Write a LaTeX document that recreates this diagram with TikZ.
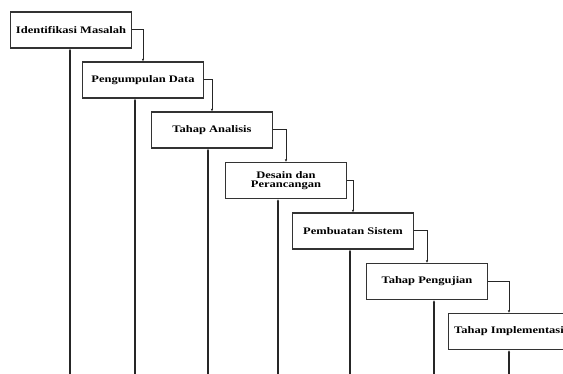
\documentclass[tikz,border=0pt]{standalone}
\usepackage{fontspec}
\newfontfamily\tahapfont[FakeStretch=1.25]{Liberation Serif}
\usetikzlibrary{positioning,arrows.meta,calc}

\begin{document}
\begin{tikzpicture}[
        x=1pt,
        y=1pt,
        >=Latex,
        tahap/.style={draw=black!80, line width=1.3pt, fill=white, minimum width=121pt, minimum height=36pt,
            inner sep=1pt, align=center, font=\tahapfont\bfseries\fontsize{10}{9.5}\selectfont},
        maju/.style={-{Latex[length=2.5pt,width=2.5pt]}, line width=1pt, black!85},
        balik/.style={-{Latex[length=2.5pt,width=2.5pt]}, line width=1.1pt, black!85}
    ]
        \useasboundingbox (0,0) rectangle (563,-374);

        % Tahapan model waterfall
        \node[tahap] (masalah) at (71,-30) {Identifikasi Masalah};
        \node[tahap] (data) at (143,-80) {Pengumpulan Data};
        \node[tahap] (analisis) at (212,-130) {Tahap Analisis};
        \node[tahap] (desain) at (286,-180.5) {Desain dan\\Perancangan};
        \node[tahap] (sistem) at (353,-231) {Pembuatan Sistem};
        \node[tahap] (uji) at (427,-281.5) {Tahap Pengujian};
        \node[tahap] (implementasi) at (509,-331.5) {Tahap Implementasi};

        % Alur maju antar tahap
        \draw[maju] (masalah.east) -| (data.north);
        \draw[maju] (data.east) -| (analisis.north);
        \draw[maju] (analisis.east) -| (desain.north);
        \draw[maju] (desain.east) -| (sistem.north);
        \draw[maju] (sistem.east) -| (uji.north);
        \draw[maju] (uji.east) -| (implementasi.north);

        % Garis balik dari bawah
        \coordinate (b1) at (70,-374);
        \coordinate (b2) at (135,-374);
        \coordinate (b3) at (208,-374);
        \coordinate (b4) at (278,-374);
        \coordinate (b5) at (350,-374);
        \coordinate (b6) at (434,-374);
        \coordinate (b7) at (509,-374);
        \draw[balik] (b1) -- (b1 |- masalah.south);
        \draw[balik] (b2) -- (b2 |- data.south);
        \draw[balik] (b3) -- (b3 |- analisis.south);
        \draw[balik] (b4) -- (b4 |- desain.south);
        \draw[balik] (b5) -- (b5 |- sistem.south);
        \draw[balik] (b6) -- (b6 |- uji.south);
        \draw[balik] (b7) -- (b7 |- implementasi.south);
    \end{tikzpicture}
\end{document}
